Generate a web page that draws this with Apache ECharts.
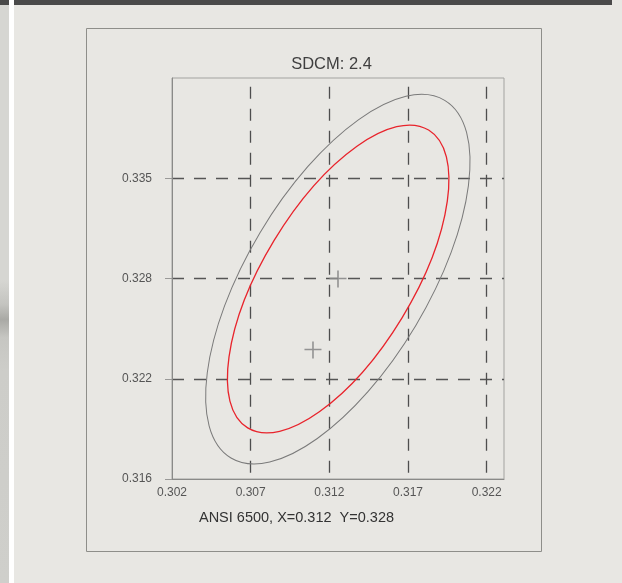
<!DOCTYPE html>
<html>
<head>
<meta charset="utf-8">
<script src="https://cdn.jsdelivr.net/npm/echarts@6.0.0/dist/echarts.min.js"></script>
<style>
  html, body { margin: 0; padding: 0; background: #e8e7e3; }
  #chart { width: 622px; height: 583px; }
</style>
</head>
<body>
<div id="chart"></div>
<script>
// Chromaticity tolerance ellipses around the ANSI 6500 K point (CIE x, y).
const xTicks = [0.302, 0.307, 0.312, 0.317, 0.322];
const yTicks = [0.316, 0.3222, 0.3284, 0.3346];

// Each ellipse: centre (x, y), end of the major semi-axis (x, y), end of the minor semi-axis (x, y).
const outerEllipse = [0.31254, 0.32836, 0.31933, 0.33942, 0.31749, 0.32549];
const sdcmEllipse  = [0.31256, 0.32837, 0.31831, 0.33758, 0.31662, 0.32597];

// Reference point (ANSI 6500) and measured point.
const crossPoints = [[0.31255, 0.32837], [0.31096, 0.32398]];

const titleText = 'SDCM: 2.4';
const footText = 'ANSI 6500, X=0.312  Y=0.328';

const FONT = '"Liberation Sans", Arial, Helvetica, sans-serif';
const chart = echarts.init(document.getElementById('chart'), null, { renderer: 'canvas' });

const fmt3 = v => (Math.round(v * 1000) / 1000).toFixed(3);
const plusPath = 'path://M0,7.25h17v1.6h-17z M7.7,0h1.6v17h-1.6z';

// Draws a tilted ellipse from its centre and semi-axis end points, mapped through the axes.
function ellipseRenderer(stroke, width) {
  return function (params, api) {
    const c = api.coord([api.value(0), api.value(1)]);
    const a = api.coord([api.value(2), api.value(3)]);
    const b = api.coord([api.value(4), api.value(5)]);
    const rx = Math.hypot(a[0] - c[0], a[1] - c[1]);
    const ry = Math.hypot(b[0] - c[0], b[1] - c[1]);
    const rot = Math.atan2(-(a[1] - c[1]), a[0] - c[0]);
    return {
      type: 'ellipse',
      x: c[0], y: c[1], rotation: rot,
      shape: { cx: 0, cy: 0, rx: rx, ry: ry },
      style: { fill: 'none', stroke: stroke, lineWidth: width }
    };
  };
}

chart.setOption({
  animation: false,
  backgroundColor: '#e8e7e3',
  graphic: [
    // page strips
    { type: 'rect', shape: { x: 0, y: 0, width: 9, height: 583 }, style: { fill: '#d6d6d2' }, z: 0 },
    { type: 'rect', shape: { x: 0, y: 280, width: 9, height: 303 },
      style: { fill: new echarts.graphic.LinearGradient(0, 0, 0, 1, [
        { offset: 0, color: '#d6d6d2' },
        { offset: 0.08, color: '#c4c4c0' },
        { offset: 0.13, color: '#a9a9a5' },
        { offset: 0.19, color: '#c6c6c2' },
        { offset: 0.3, color: '#cdcdc9' },
        { offset: 1, color: '#cfcfcb' }
      ]) }, z: 0 },
    { type: 'rect', shape: { x: 9, y: 0, width: 5, height: 583 }, style: { fill: '#ffffff' }, z: 1 },
    { type: 'rect', shape: { x: 0, y: 0, width: 9, height: 5 }, style: { fill: '#4a4a4a' }, z: 1 },
    { type: 'rect', shape: { x: 14, y: 0, width: 598, height: 5 }, style: { fill: '#4a4a4a' }, z: 1 },
    // outer frame
    { type: 'rect', shape: { x: 86.5, y: 28.5, width: 455, height: 523 },
      style: { fill: 'none', stroke: '#8e8e8a', lineWidth: 1 }, z: 1 },
    { type: 'text', x: 331.5, y: 64,
      style: { text: titleText, fill: '#3f3f3f', font: '16.5px ' + FONT,
               align: 'center', verticalAlign: 'middle', textAlign: 'center', textVerticalAlign: 'middle' }, z: 5 },
    { type: 'text', x: 296.5, y: 517.5,
      style: { text: footText, fill: '#333333', font: '14.5px ' + FONT,
               align: 'center', verticalAlign: 'middle', textAlign: 'center', textVerticalAlign: 'middle' }, z: 5 }
  ],
  grid: {
    left: 172, top: 78, width: 332, height: 401,
    show: true, borderColor: '#a3a3a0', borderWidth: 1, backgroundColor: 'transparent',
    containLabel: false
  },
  xAxis: {
    type: 'value',
    min: xTicks[0], max: 0.3231, interval: 0.005,
    axisLine: { show: true, onZero: false, lineStyle: { color: '#8a8a88', width: 1 } },
    axisTick: { show: false },
    axisLabel: {
      show: true, margin: 8, color: '#555', fontSize: 12, fontFamily: FONT,
      formatter: fmt3, customValues: xTicks
    },
    splitLine: {
      show: true, showMinLine: false, showMaxLine: false,
      lineStyle: { color: '#4e4e4e', width: 1.3, type: [12, 10], dashOffset: 13.3 }
    }
  },
  yAxis: {
    type: 'value',
    min: yTicks[0], max: 0.3408, interval: 0.0062,
    axisLine: { show: true, onZero: false, lineStyle: { color: '#8a8a88', width: 1 } },
    axisTick: { show: true, inside: false, length: 7, lineStyle: { color: '#9a9a98' }, customValues: yTicks },
    axisLabel: {
      show: true, margin: 20, color: '#555', fontSize: 12, fontFamily: FONT,
      formatter: fmt3, customValues: yTicks
    },
    splitLine: {
      show: true, showMinLine: false,
      lineStyle: { color: '#555555', width: 1.3, type: [12, 10], dashOffset: 0 }
    }
  },
  series: [
    {
      name: 'outer', type: 'custom', coordinateSystem: 'cartesian2d',
      data: [outerEllipse], encode: { x: [0, 2, 4], y: [1, 3, 5] },
      renderItem: ellipseRenderer('#7a7a7a', 1), z: 3, silent: true
    },
    {
      name: 'sdcm', type: 'custom', coordinateSystem: 'cartesian2d',
      data: [sdcmEllipse], encode: { x: [0, 2, 4], y: [1, 3, 5] },
      renderItem: ellipseRenderer('#e8242c', 1.3), z: 4, silent: true
    },
    {
      name: 'points', type: 'scatter', data: crossPoints,
      symbol: plusPath, symbolSize: 17, symbolKeepAspect: true,
      itemStyle: { color: '#8a8a8a', opacity: 0.9 }, z: 5
    }
  ]
});
</script>
</body>
</html>
